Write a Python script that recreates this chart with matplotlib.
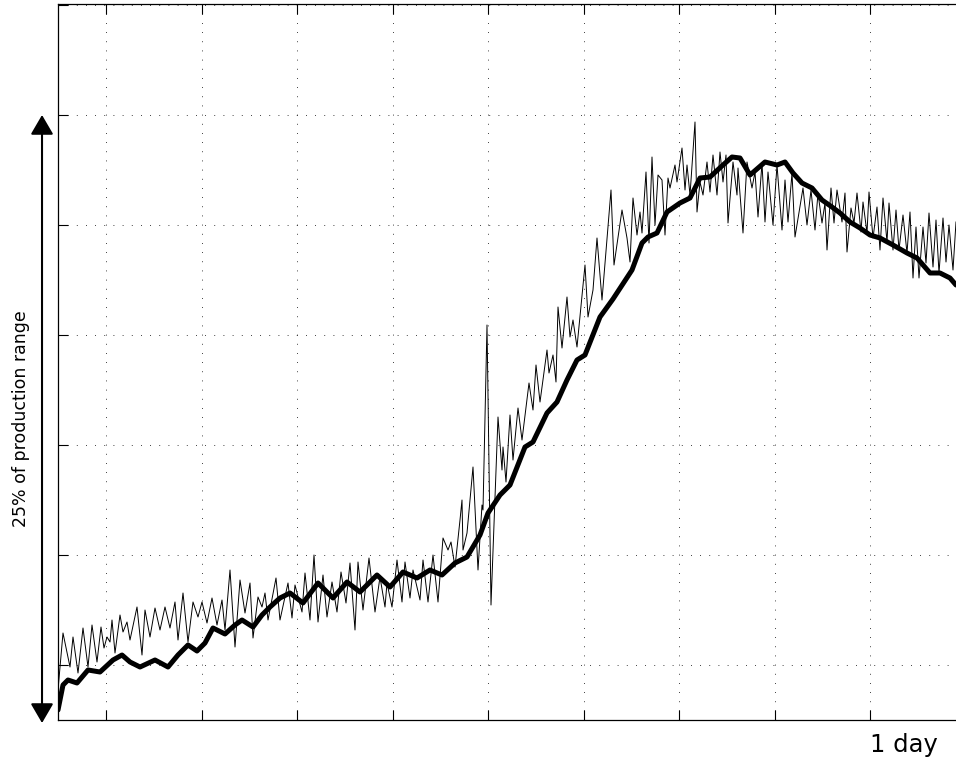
import numpy as np
import matplotlib
matplotlib.use("Agg")
import matplotlib.pyplot as plt

# raw signal (thin) - time index vs level
raw_t = [0, 5, 12, 15, 20, 25, 30, 34, 39, 43, 46, 49, 52, 54, 57, 62, 65, 69, 72, 79,
         84, 87, 92, 97, 102, 107, 112, 117, 120, 125, 130, 135, 140, 144, 149, 154, 159, 164, 167, 172,
         177, 182, 187, 192, 195, 200, 204, 207, 210, 218, 222, 230, 234, 237, 244, 247, 252, 256, 260, 265,
         269, 274, 279, 283, 288, 292, 297, 300, 305, 311, 317, 322, 327, 329, 334, 339, 344, 347, 352, 355,
         362, 365, 370, 375, 380, 385, 390, 393, 397, 402, 404, 405, 409, 415, 420, 424, 425, 429, 433, 440,
         444, 445, 448, 452, 455, 460, 464, 471, 475, 478, 482, 489, 491, 495, 498, 500, 504, 509, 512, 515,
         519, 527, 530, 535, 539, 544, 553, 556, 564, 569, 572, 575, 579, 582, 584, 588, 591, 594, 597, 600,
         604, 607, 610, 612, 617, 619, 624, 627, 629, 632, 637, 639, 642, 645, 649, 652, 655, 659, 662, 665,
         668, 670, 675, 679, 680, 685, 689, 694, 697, 700, 704, 707, 710, 715, 719, 724, 727, 730, 734, 737,
         745, 749, 753, 757, 760, 764, 767, 769, 773, 776, 779, 784, 787, 789, 793, 796, 799, 803, 805, 809,
         811, 815, 819, 822, 825, 829, 831, 835, 838, 841, 845, 849, 852, 855, 858, 861, 865, 868, 871, 875,
         878, 881, 885, 888, 891, 895, 898]
raw_v = [30, 87, 53, 83, 47, 92, 53, 95, 58, 93, 72, 83, 78, 100, 67, 105, 88, 98, 80, 113,
         65, 110, 83, 112, 90, 113, 92, 118, 80, 127, 78, 118, 103, 118, 97, 122, 95, 120, 90, 150,
         73, 140, 107, 137, 82, 123, 113, 127, 100, 142, 100, 137, 102, 135, 108, 147, 100, 165, 98, 145,
         103, 138, 108, 148, 117, 157, 90, 158, 110, 162, 108, 143, 113, 137, 113, 160, 118, 158, 122, 150,
         120, 160, 118, 165, 118, 182, 170, 178, 153, 200, 220, 170, 187, 253, 150, 215, 210, 395, 115, 303,
         250, 273, 238, 305, 260, 312, 280, 337, 310, 355, 318, 370, 347, 365, 338, 413, 372, 423, 383, 400,
         373, 455, 403, 430, 482, 420, 530, 455, 510, 482, 458, 522, 485, 508, 487, 548, 477, 563, 495, 545,
         540, 485, 542, 532, 555, 538, 572, 530, 555, 525, 598, 508, 538, 525, 558, 528, 565, 525, 568, 538,
         565, 497, 558, 525, 552, 487, 558, 532, 548, 503, 557, 498, 548, 495, 555, 490, 540, 498, 547, 483,
         532, 495, 530, 490, 527, 497, 517, 470, 532, 497, 530, 498, 527, 468, 512, 497, 527, 488, 518, 487,
         528, 482, 513, 470, 522, 478, 517, 470, 510, 470, 505, 467, 508, 442, 493, 442, 493, 457, 507, 453,
         500, 447, 502, 458, 495, 450, 498]

# filtered signal (thick)
flt_t = [0, 5, 10, 19, 30, 42, 55, 64, 72, 82, 97, 110, 120, 130, 139, 147, 155, 167, 177, 184,
         195, 204, 212, 222, 232, 245, 260, 275, 289, 302, 319, 332, 345, 359, 372, 384, 397, 409, 422, 430,
         442, 452, 467, 475, 489, 499, 509, 519, 527, 542, 555, 574, 584, 590, 599, 609, 622, 632, 642, 652,
         665, 674, 682, 692, 707, 719, 727, 735, 744, 754, 764, 774, 782, 792, 802, 812, 822, 835, 849, 859,
         872, 882, 892, 898]
flt_v = [10, 35, 40, 37, 50, 48, 60, 65, 58, 53, 60, 53, 65, 75, 69, 77, 92, 86, 95, 100,
         93, 105, 113, 122, 127, 117, 137, 122, 138, 128, 145, 133, 148, 142, 150, 145, 157, 163, 185, 207,
         225, 235, 273, 278, 307, 318, 340, 360, 365, 403, 421, 450, 477, 483, 487, 508, 517, 522, 542, 543,
         555, 563, 562, 545, 558, 555, 558, 547, 537, 532, 520, 513, 507, 498, 492, 485, 482, 475, 467, 462,
         447, 447, 442, 435]

x_step = 95.5
y_step = 110.0
x_max = 898
y_max = 716

fig = plt.figure(figsize=(9.56, 7.6), dpi=100)
ax = fig.add_axes([58 / 956, 40 / 760, 898 / 956, 716 / 760])

ax.plot(raw_t, raw_v, color='k', lw=0.7)
ax.plot(flt_t, flt_v, color='k', lw=3.6, solid_capstyle='round', solid_joinstyle='round')

ax.set_xlim(0, x_max)
ax.set_ylim(0, y_max)
ax.set_xticks(np.arange(48, x_max, x_step))
ax.set_yticks(np.arange(55, y_max, y_step))
ax.set_xticklabels([])
ax.set_yticklabels([])
ax.tick_params(direction='in', length=7, width=0.8, top=True, right=False, colors='k')
ax.grid(True, linestyle=(0, (1, 10)), color='k', lw=0.6)
ax.spines['right'].set_visible(False)
for s in ['left', 'bottom', 'top']:
    ax.spines[s].set_linewidth(0.9)

# double arrow for vertical scale
ax.annotate('', xy=(-0.0178, 605), xytext=(-0.0178, -3),
            xycoords=('axes fraction', 'data'), textcoords=('axes fraction', 'data'),
            arrowprops=dict(arrowstyle='<|-|>,head_length=0.6,head_width=0.35',
                            mutation_scale=20, color='k', lw=1.5, shrinkA=0, shrinkB=0),
            annotation_clip=False)
fig.text(21 / 956, (760 - 419) / 760, '25% of production range', rotation=90,
         ha='center', va='center', fontsize=12.5)

ax.text(812, -0.0447, '1 day', transform=ax.get_xaxis_transform(),
        ha='left', va='baseline', fontsize=17.5)

plt.savefig('out.png', dpi=100)
plt.close()
